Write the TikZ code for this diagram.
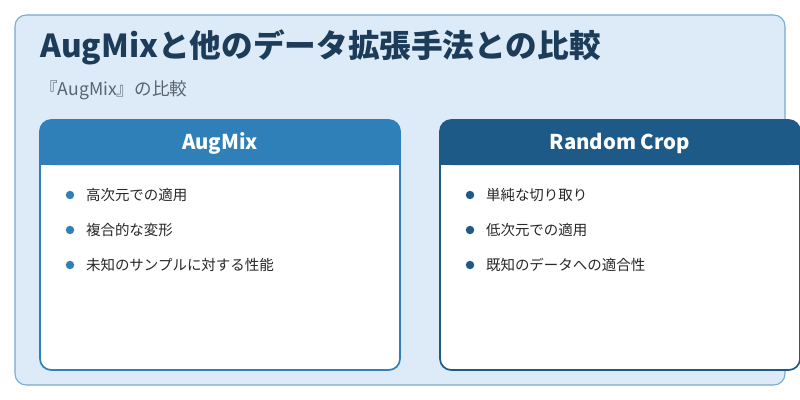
\documentclass[tikz,border=0pt]{standalone}
\usepackage{fontspec}
\setmainfont{Noto Sans CJK JP}
\usetikzlibrary{positioning}
\definecolor{rahmen}{RGB}{120,170,210}
\definecolor{hintergrund}{RGB}{220,235,247}
\definecolor{titelblau}{RGB}{28,60,90}
\definecolor{grau}{RGB}{90,100,110}
\definecolor{kopfhell}{RGB}{47,127,184}
\definecolor{kopfdunkel}{RGB}{29,90,135}
\definecolor{textgrau}{RGB}{40,40,40}

\tikzset{
  karte/.style={draw=#1, line width=1.2pt, fill=white, rounded corners=8pt},
  punkt/.style={circle, fill=#1, inner sep=0pt, minimum size=6pt},
  eintrag/.style={anchor=west, font=\fontsize{10.3}{12}\selectfont, text=textgrau, inner sep=0pt},
  kopftext/.style={font=\fontsize{14.5}{17}\selectfont\bfseries, text=white}
}

\begin{document}
\begin{tikzpicture}[x=0.025cm, y=-0.025cm]
        % Rahmen
        \useasboundingbox (0,0) rectangle (800,400);
        \clip (0,0) rectangle (800,400);
        \fill[white] (0,0) rectangle (800,400);
        \draw[rahmen, fill=hintergrund, line width=0.8pt, rounded corners=8pt] (15,15) rectangle (785,385);

        % Titel
        \node[anchor=west, inner sep=0pt, text=titelblau, font=\fontsize{22.5}{26}\selectfont\bfseries] (titel) at (40,47) {AugMixと他のデータ拡張手法との比較};
        \node[anchor=west, inner sep=0pt, text=grau, font=\fontsize{12.5}{15}\selectfont] (untertitel) at (40,90) {『AugMix』の比較};

        % Linke Karte
        \draw[karte=kopfhell] (40,120) rectangle (400,370);
        \fill[kopfhell, rounded corners=8pt] (40,120) rectangle (400,165);
        \fill[kopfhell] (40,150) rectangle (400,165);
        \node[kopftext] (augmix) at (220,143) {AugMix};

        % Rechte Karte
        \draw[karte=kopfdunkel] (440,120) rectangle (800,370);
        \fill[kopfdunkel, rounded corners=8pt] (440,120) rectangle (800,165);
        \fill[kopfdunkel] (440,150) rectangle (800,165);
        \node[kopftext] (crop) at (620,143) {Random Crop};

        % Einträge
        \foreach \t [count=\i] in {高次元での適用, 複合的な変形, 未知のサンプルに対する性能} {
          \node[punkt=kopfhell] (lp\i) at (70,160+35*\i) {};
          \node[eintrag, right=8pt of lp\i] (lt\i) {\t};
        }
        \foreach \t [count=\i] in {単純な切り取り, 低次元での適用, 既知のデータへの適合性} {
          \node[punkt=kopfdunkel] (rp\i) at (470,160+35*\i) {};
          \node[eintrag, right=8pt of rp\i] (rt\i) {\t};
        }
\end{tikzpicture}
\end{document}
